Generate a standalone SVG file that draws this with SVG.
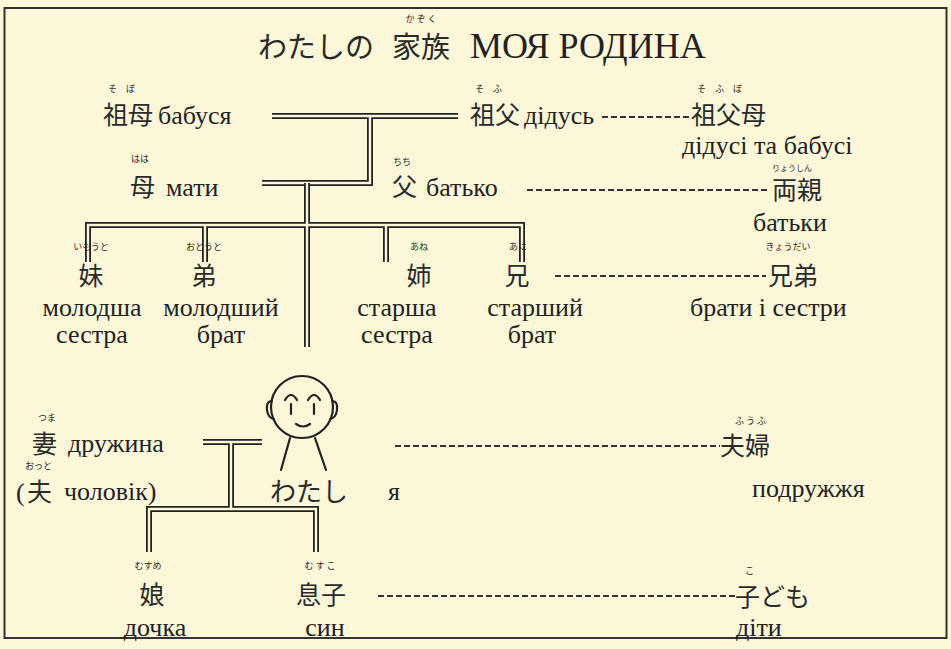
<svg xmlns="http://www.w3.org/2000/svg" width="951" height="649" viewBox="0 0 951 649">
  <style>
    .jp { font-family: "Noto Sans CJK JP", "Noto Sans CJK SC", sans-serif; fill: #2a2a2a; }
    .k { font-size: 25px; }
    .ruby { font-size: 9px; }
    .cy { font-family: 'Liberation Serif', 'Times New Roman', Times, serif; font-size: 26px; fill: #222; }
    .mid { text-anchor: middle; }
    .dbl-o { fill: none; stroke: #222; stroke-width: 6; }
    .dbl-i { fill: none; stroke: #fcf7d9; stroke-width: 2.4; }
    .dash { fill: none; stroke: #333; stroke-width: 1.8; stroke-dasharray: 6 3; }
    .face { fill: none; stroke: #222; stroke-width: 2.2; stroke-linecap: round; }
  </style>
  <defs>
    <!-- shared double-line trunk paths, drawn twice: dark outer then pale inner -->
    <path id="p-grand" d="M272,116 H458 M262,183 H370 V116"/>
    <path id="p-sibs" d="M307,183 V347 M88,262 V225 H522 V262 M205,225 V262 M386,225 V262"/>
    <path id="p-kids" d="M203,442 H262 M231,442 V509 M149,552 V509 H316 V552"/>
  </defs>

  <rect x="0" y="0" width="951" height="649" fill="#fcf7d9"/>
  <rect x="4.5" y="8" width="942" height="630" fill="none" stroke="#333" stroke-width="2"/>

  <g id="title">
    <text class="jp" x="258" y="58" style="font-size:29px">わたしの</text>
    <text class="jp" x="392" y="58" style="font-size:29px">家族</text>
    <text class="jp ruby mid" x="421" y="22">か ぞ く</text>
    <text class="cy" x="470" y="58" style="font-size:36px">МОЯ РОДИНА</text>
  </g>

  <g id="connectors">
    <use href="#p-grand" class="dbl-o"/><use href="#p-grand" class="dbl-i"/>
    <use href="#p-sibs" class="dbl-o"/><use href="#p-sibs" class="dbl-i"/>
    <use href="#p-kids" class="dbl-o"/><use href="#p-kids" class="dbl-i"/>
    <path class="dash" d="M602,117 H690"/>
    <path class="dash" d="M527,190 H768"/>
    <path class="dash" d="M555,276 H766"/>
    <path class="dash" d="M395,446 H720"/>
    <path class="dash" d="M378,596 H735"/>
  </g>

  <g id="n-sobo">
    <text class="jp ruby" x="108" y="92">そ　ぼ</text>
    <text class="jp k" x="103" y="124">祖母</text>
    <text class="cy" x="158" y="124">бабуся</text>
  </g>
  <g id="n-sofu">
    <text class="jp ruby" x="475" y="92">そ　ふ</text>
    <text class="jp k" x="470" y="124">祖父</text>
    <text class="cy" x="524" y="124">дідусь</text>
  </g>
  <g id="n-sofubo">
    <text class="jp ruby" x="697" y="92">そ　ふ　ぼ</text>
    <text class="jp k" x="691" y="124">祖父母</text>
    <text class="cy" x="682" y="154">дідусі та бабусі</text>
  </g>

  <g id="n-haha">
    <text class="jp ruby" x="131" y="162">はは</text>
    <text class="jp k" x="130" y="196">母</text>
    <text class="cy" x="166" y="196">мати</text>
  </g>
  <g id="n-chichi">
    <text class="jp ruby" x="393" y="165">ちち</text>
    <text class="jp k" x="392" y="196">父</text>
    <text class="cy" x="426" y="196">батько</text>
  </g>
  <g id="n-ryoushin">
    <text class="jp ruby" x="772" y="171" style="font-size:8px">りょうしん</text>
    <text class="jp k" x="772" y="199">両親</text>
    <text class="cy" x="753" y="231">батьки</text>
  </g>

  <g id="n-imouto">
    <text class="jp ruby mid" x="91" y="250">いもうと</text>
    <text class="jp k mid" x="91" y="285">妹</text>
    <text class="cy mid" x="92" y="316">молодша</text>
    <text class="cy mid" x="92" y="343">сестра</text>
  </g>
  <g id="n-otouto">
    <text class="jp ruby mid" x="204" y="250">おとうと</text>
    <text class="jp k mid" x="204" y="285">弟</text>
    <text class="cy mid" x="221" y="316">молодший</text>
    <text class="cy mid" x="221" y="343">брат</text>
  </g>
  <g id="n-ane">
    <text class="jp ruby mid" x="419" y="250">あね</text>
    <text class="jp k mid" x="419" y="285">姉</text>
    <text class="cy mid" x="397" y="316">старша</text>
    <text class="cy mid" x="397" y="343">сестра</text>
  </g>
  <g id="n-ani">
    <text class="jp ruby mid" x="518" y="250">あに</text>
    <text class="jp k mid" x="517" y="285">兄</text>
    <text class="cy mid" x="535" y="316">старший</text>
    <text class="cy mid" x="532" y="343">брат</text>
  </g>
  <g id="n-kyoudai">
    <text class="jp ruby mid" x="788" y="250">きょうだい</text>
    <text class="jp k" x="768" y="285">兄弟</text>
    <text class="cy" x="690" y="316">брати і сестри</text>
  </g>

  <g id="n-watashi">
    <!-- head -->
    <circle class="face" cx="302" cy="407" r="31"/>
    <path class="face" d="M272,401 q-6,0 -5,9 q1,8 7,9"/>
    <path class="face" d="M332,401 q6,0 5,9 q-1,8 -7,9"/>
    <path class="face" d="M285,400 q6,-10 12,0"/>
    <path class="face" d="M308,400 q6,-10 12,0"/>
    <path class="face" d="M291,404 v10 M314,404 v10"/>
    <path class="face" d="M296,424 q7,5 14,0"/>
    <path class="face" d="M290,438 L281,470 M315,438 L326,470"/>
    <text class="jp" x="270" y="501" font-size="26">わたし</text>
    <text class="cy" x="388" y="500">я</text>
  </g>

  <g id="n-tsuma">
    <text class="jp ruby" x="38" y="421">つま</text>
    <text class="jp k" x="32" y="453">妻</text>
    <text class="cy" x="68" y="452">дружина</text>
  </g>
  <g id="n-otto">
    <text class="jp ruby" x="25" y="469">おっと</text>
    <text class="cy" x="16" y="501">(</text>
    <text class="jp k" x="27" y="501">夫</text>
    <text class="cy" x="64" y="500">чоловік)</text>
  </g>
  <g id="n-fuufu">
    <text class="jp ruby" x="735" y="424">ふ う ふ</text>
    <text class="jp k" x="720" y="455">夫婦</text>
    <text class="cy" x="752" y="497">подружжя</text>
  </g>

  <g id="n-musume">
    <text class="jp ruby mid" x="148" y="569">むすめ</text>
    <text class="jp k mid" x="152" y="604">娘</text>
    <text class="cy mid" x="155" y="636">дочка</text>
  </g>
  <g id="n-musuko">
    <text class="jp ruby mid" x="320" y="569">む す こ</text>
    <text class="jp k" x="296" y="604">息子</text>
    <text class="cy mid" x="325" y="636">син</text>
  </g>
  <g id="n-kodomo">
    <text class="jp ruby" x="745" y="574">こ</text>
    <text class="jp k" x="735" y="606">子ども</text>
    <text class="cy" x="736" y="636">діти</text>
  </g>
</svg>
